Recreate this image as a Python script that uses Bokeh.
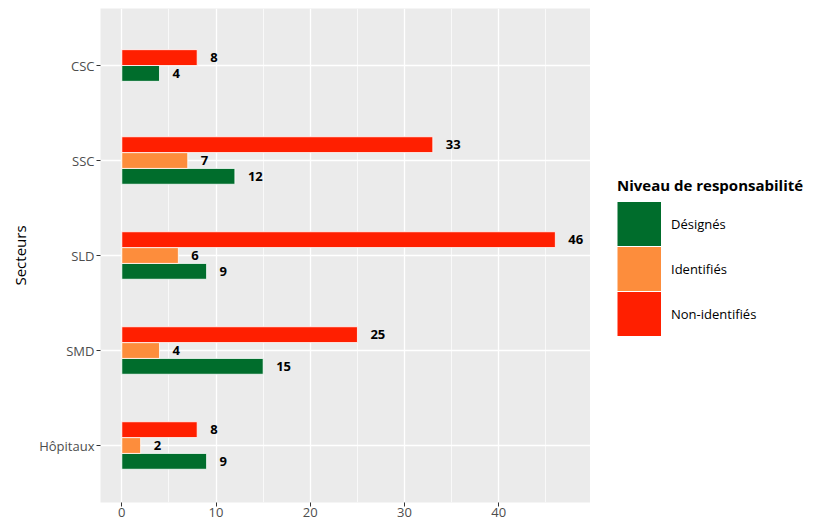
from bokeh.plotting import figure
from bokeh.layouts import row
from bokeh.models import ColumnDataSource, Range1d, FixedTicker, Legend, LegendItem
from bokeh.core.properties import value
from bokeh.embed import file_html
from bokeh.resources import INLINE

# ---- data (bottom to top as drawn) ----
secteurs = ["Hôpitaux", "SMD", "SLD", "SSC", "CSC"]
designes = [9, 15, 9, 12, 4]
identifies = [2, 4, 6, 7, None]
non_identifies = [8, 25, 46, 33, 8]
niveaux = ["Désignés", "Identifiés", "Non-identifiés"]
couleurs = ["#006d2c", "#fd8d3c", "#ff1f00"]
x_ticks = [0, 10, 20, 30, 40]
x_minor = [5, 15, 25, 35, 45]

series = [designes, identifies, non_identifies]
group_width = 0.5
bar_h = group_width / len(series)

# dodge positions (preserve single bar width, centred on category)
positions = {k: {} for k in range(len(series))}
for ci, sect in enumerate(secteurs):
    present = [k for k in range(len(series)) if series[k][ci] is not None]
    n = len(present)
    for i, k in enumerate(present):
        positions[k][ci] = (ci + 1) + (i - (n - 1) / 2) * bar_h

FONT = "Open Sans"

p = figure(width=590, height=525, output_backend="svg", toolbar_location=None,
           x_range=Range1d(-2.26, 49.73), y_range=Range1d(0.4, 5.6),
           min_border_left=100, min_border_top=8, min_border_bottom=23,
           min_border_right=0)
p.outline_line_color = None
p.background_fill_color = "#ebebeb"
p.border_fill_color = "white"

for k, (vals, col, name) in enumerate(zip(series, couleurs, niveaux)):
    ys, xs, labels = [], [], []
    for ci in range(len(secteurs)):
        if vals[ci] is None:
            continue
        ys.append(positions[k][ci])
        xs.append(vals[ci])
        labels.append(str(vals[ci]))
    src = ColumnDataSource(dict(y=ys, right=xs, text=labels))
    p.hbar(y="y", height=bar_h, left=0, right="right", source=src,
           fill_color=col, line_color="white", line_width=0.8)
    p.text(x="right", y="y", text="text", source=src, x_offset=13,
           text_align="left", text_baseline="middle",
           text_font=value(FONT), text_font_style="bold",
           text_font_size="13px", text_color="black")

# axes
p.xaxis.ticker = FixedTicker(ticks=x_ticks, minor_ticks=x_minor)
p.yaxis.ticker = FixedTicker(ticks=list(range(1, len(secteurs) + 1)))
p.yaxis.major_label_overrides = {i + 1: s for i, s in enumerate(secteurs)}
for ax in (p.xaxis[0], p.yaxis[0]):
    ax.axis_line_color = None
    ax.major_tick_line_color = "#333333"
    ax.major_tick_out = 4
    ax.major_tick_in = 0
    ax.minor_tick_line_color = None
    ax.major_label_text_color = "#4d4d4d"
    ax.major_label_text_font = FONT
    ax.major_label_text_font_size = "13px"
    ax.major_label_standoff = 2
p.xaxis.major_label_standoff = 1
p.yaxis.axis_label = "Secteurs"
p.yaxis.axis_label_text_font = FONT
p.yaxis.axis_label_text_font_style = "normal"
p.yaxis.axis_label_text_font_size = "15px"
p.yaxis.axis_label_text_color = "black"
p.yaxis.axis_label_standoff = 6

p.xgrid.grid_line_color = "white"
p.xgrid.grid_line_width = 1.3
p.xgrid.minor_grid_line_color = "white"
p.xgrid.minor_grid_line_width = 0.7
p.ygrid.grid_line_color = "white"
p.ygrid.grid_line_width = 1.3

# legend panel (separate figure to the right)
lg = figure(width=235, height=525, output_backend="svg", toolbar_location=None,
            x_range=Range1d(0, 1), y_range=Range1d(0, 1),
            x_axis_type=None, y_axis_type=None, min_border=0)
lg.outline_line_color = None
lg.grid.visible = False
keys = []
for col in couleurs:
    # off-screen dummy line used only for its legend swatch (thick line = filled key)
    keys.append(lg.line(x=[-2, -1], y=[-2, -2], line_color=col, line_width=44,
                        line_cap="butt"))

legend = Legend(items=[LegendItem(label=n, renderers=[r]) for n, r in zip(niveaux, keys)],
                title="Niveau de responsabilité", location=(27, 166),
                title_text_font=FONT, title_text_font_style="bold",
                title_text_font_size="15px", title_text_color="black",
                title_standoff=6,
                label_text_font=FONT, label_text_font_size="13px",
                label_text_color="black",
                glyph_width=44, glyph_height=45, label_height=45,
                label_standoff=10, spacing=0, padding=0, margin=0,
                border_line_color=None, background_fill_alpha=0)
lg.add_layout(legend, "center")

layout = row(p, lg)
open("out.html", "w").write(file_html(layout, INLINE))
